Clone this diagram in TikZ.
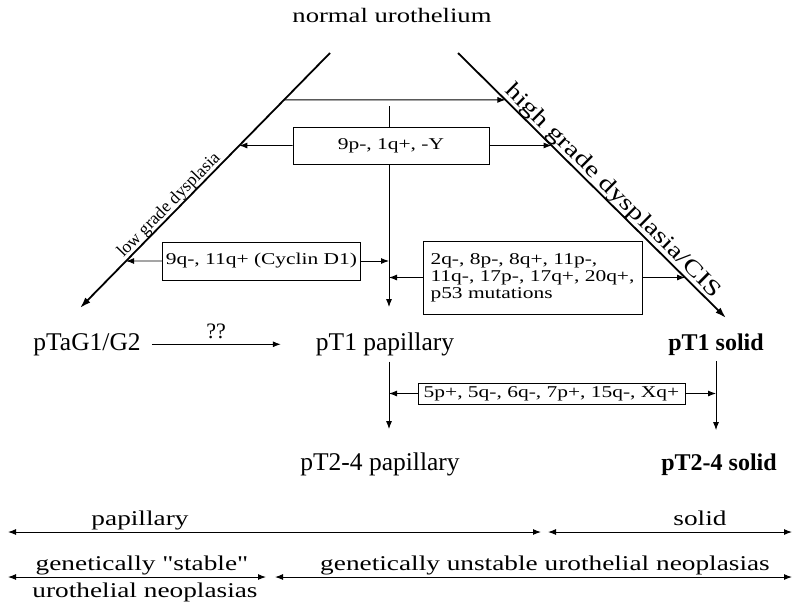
\documentclass[tikz,border=0pt]{standalone}
\usepackage{fontspec}
\setmainfont{Liberation Serif}
\newfontfamily\widefont[FakeStretch=1.3]{Liberation Serif}
\usetikzlibrary{calc}
\usetikzlibrary{positioning}
\usetikzlibrary{arrows.meta}
\tikzstyle{stage} = [inner sep=1pt, font=\fontsize{25.5}{27}\selectfont]
\tikzstyle{change} = [draw, fill=white, line width=0.9pt, inner sep=3pt, font=\widefont\fontsize{16.5}{17}\selectfont]
\tikzstyle{link} = [line width=0.9pt, -{Latex[length=8pt,width=6pt]}]
\tikzstyle{down} = [link, shorten >=22pt, shorten <=5pt]
\tikzstyle{route} = [line width=1.8pt, -{Latex[length=11pt,width=7pt]}]
\tikzstyle{span} = [line width=1pt, {Latex[length=8pt,width=6pt]}-{Latex[length=8pt,width=6pt]}]
\tikzstyle{caption} = [inner sep=0pt, font=\widefont\fontsize{21}{23}\selectfont]

\begin{document}
\begin{tikzpicture}[x=1pt,y=-1pt]
    \useasboundingbox (0,0) rectangle (795,603);
    \node[font=\widefont\fontsize{20.5}{22}\selectfont](nu) at (392,15) {normal urothelium};

    \coordinate (lt) at (330,53);
    \coordinate (lb) at (80,308);
    \coordinate (rt) at (458,53);
    \coordinate (rb) at (726,318);
    \draw[route](lt) -- (lb);
    \draw[route](rt) -- (rb);
    \path (lb) -- node[sloped, above=0pt, pos=0.38, inner sep=0pt, font=\fontsize{17.5}{19}\selectfont](lg) {low grade dysplasia} (lt);
    \path (rt) -- node[sloped, above=0pt, pos=0.55, inner sep=0pt, font=\widefont\fontsize{22.5}{24}\selectfont](hg) {high grade dysplasia/CIS} (rb);

    \coordinate (hl) at ($(lt)!0.184!(lb)$);
    \coordinate (hr) at ($(rt)!0.177!(rb)$);
    \coordinate (vtop) at (389,106);

    \node[stage, anchor=base](pTa) at (87,350) {pTaG1/G2};
    \node[stage, anchor=base](pT1p) at (385,350) {pT1 papillary};
    \node[stage, anchor=base, font=\bfseries\fontsize{24}{26}\selectfont](pT1s) at (716,350) {pT1 solid};
    \node[stage, anchor=base](pT2p) at (380,470) {pT2-4 papillary};
    \node[stage, anchor=base, font=\bfseries\fontsize{24}{26}\selectfont](pT2s) at (719,470) {pT2-4 solid};

    \draw[link](hl) -- (hr);
    \draw[link](vtop) -- ([yshift=24pt]vtop |- pT1p.north);

    \node[change, minimum width=196pt, minimum height=37pt](b1) at (391,145.5) {9p-, 1q+, -Y};
    \node[change, minimum width=197pt, minimum height=38pt](b2) at (261.5,261) {9q-, 11q+ (Cyclin D1)};
    \node[change, minimum width=219pt, minimum height=73pt, align=left](b3) at (532.5,277.5) {2q-, 8p-, 8q+, 11p-,\\11q-, 17p-, 17q+, 20q+,\\p53 mutations};
    \node[change, minimum width=267pt, minimum height=21pt, inner ysep=1pt](b4) at (551.5,393.5) {5p+, 5q-, 6q-, 7p+, 15q-, Xq+};

    \draw[link](b1.west) -- (intersection of lt--lb and b1.west--b1.east);
    \draw[link](b1.east) -- (intersection of rt--rb and b1.west--b1.east);
    \draw[link](b2.west) -- (intersection of lt--lb and b2.west--b2.east);
    \draw[link](b2.east) -- (b2.east -| vtop);
    \draw[link](b3.west) -- (b3.west -| vtop);
    \draw[link](b3.east) -- (intersection of rt--rb and b3.west--b3.east);

    \draw[link, shorten <=10pt, shorten >=34pt](pTa.east) -- node[above=5pt, pos=0.43, inner sep=0pt, font=\fontsize{22}{24}\selectfont](qq) {??} (pTa.east -| pT1p.west);

    \draw[down](pT1p.south -| vtop) -- (vtop |- pT2p.north);
    \draw[down](pT1s.south) -- (pT1s.south |- pT2s.north);
    \draw[link](b4.west) -- (b4.west -| vtop);
    \draw[link](b4.east) -- (b4.east -| pT1s.south);

    \coordinate (p1) at (8,532);
    \coordinate (p2) at (541,532);
    \coordinate (s1) at (548,532);
    \coordinate (s2) at (792,532);
    \coordinate (g1) at (8,577);
    \coordinate (g2) at (266,577);
    \coordinate (u1) at (275,577);
    \coordinate (u2) at (792,577);
    \draw[span](p1) -- (p2);
    \draw[span](s1) -- (s2);
    \draw[span](g1) -- (g2);
    \draw[span](u1) -- (u2);

    \node[caption, anchor=base](pap) at (140,525) {papillary};
    \node[caption, anchor=base](sol) at (700,525) {solid};
    \node[caption, anchor=base](gs) at (142,570) {genetically "stable"};
    \node[caption, anchor=base](un) at (145,597) {urothelial neoplasias};
    \node[caption, anchor=base](gu) at (545,570) {genetically unstable urothelial neoplasias};
\end{tikzpicture}
\end{document}
